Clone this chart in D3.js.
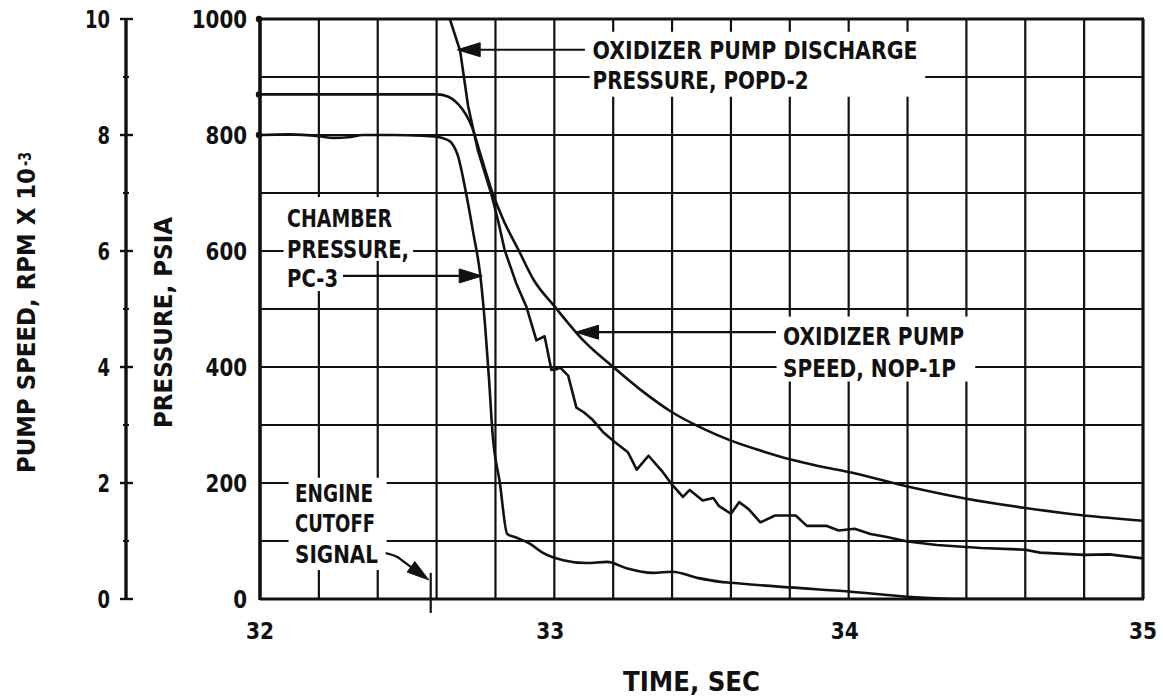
<!DOCTYPE html>
<html><head><meta charset="utf-8">
<script src="https://cdn.jsdelivr.net/npm/d3@7"></script>
<style>
html,body{margin:0;padding:0;background:#fff;}
svg{display:block;}
text{font-family:"DejaVu Sans Condensed","Liberation Sans Narrow","DejaVu Sans",sans-serif;font-weight:bold;fill:#111;}
</style></head><body>
<svg id="chart" width="1163" height="700"></svg>
<script>
// ---------- DATA ----------
const timeTicks = [32, 33, 34, 35];
const timeTickLabels = ["32", "33", "34", "35"];
const pressureTicks = [0, 200, 400, 600, 800, 1000];
const pressureTickLabels = ["0", "200", "400", "600", "800", "1000"];
const speedTicks = [0, 2, 4, 6, 8, 10];
const speedTickLabels = ["0", "2", "4", "6", "8", "10"];

// Chamber pressure PC-3 (psia)
const chamberTime = [32.0, 32.1, 32.2, 32.25, 32.3, 32.35, 32.45, 32.55, 32.6, 32.63, 32.65, 32.673, 32.70, 32.725, 32.748, 32.765, 32.778, 32.79, 32.815, 32.84, 32.87, 32.915, 32.96, 33.03, 33.11, 33.18, 33.245, 33.335, 33.40, 33.49, 33.56, 33.6, 33.8, 34.0, 34.2, 34.4, 35.0];
const chamberPsia = [800, 801, 798, 795, 796, 800, 800, 799, 797, 793, 787, 763, 700, 630, 560, 470, 380, 286, 200, 112, 106, 96, 80, 67, 62, 64, 53, 45, 47, 36, 30, 28, 20, 13, 4, 0, 0];

// Oxidizer pump discharge pressure POPD-2 (psia)
const popdTime = [32.63, 32.645, 32.68, 32.707, 32.74, 32.785, 32.81, 32.831, 32.87, 32.905, 32.925, 32.939, 32.967, 32.99, 33.007, 33.02, 33.047, 33.075, 33.1, 33.128, 33.165, 33.2, 33.25, 33.28, 33.32, 33.365, 33.4, 33.437, 33.46, 33.504, 33.54, 33.56, 33.6, 33.628, 33.66, 33.7, 33.75, 33.82, 33.858, 33.926, 33.966, 34.02, 34.074, 34.13, 34.2, 34.3, 34.45, 34.6, 34.65, 34.8, 34.885, 35.0];
const popdPsia = [1040, 1000, 945, 850, 774, 700, 650, 602, 545, 504, 470, 446, 453, 395, 396, 399, 385, 330, 322, 310, 288, 273, 253, 223, 247, 221, 197, 176, 188, 170, 174, 160, 147, 167, 155, 132, 144, 144, 126, 126, 118, 121, 112, 107, 99, 93, 88, 85, 80, 76, 77, 70];

// Oxidizer pump speed NOP-1P (rpm x 10^-3)
const pumpTime = [32.0, 32.3, 32.6, 32.64, 32.67, 32.7, 32.72, 32.75, 32.79, 32.83, 32.88, 32.93, 33.0, 33.1, 33.2, 33.3, 33.4, 33.5, 33.6, 33.7, 33.8, 33.9, 34.0, 34.2, 34.4, 34.6, 34.8, 35.0];
const pumpKrpm = [8.7, 8.7, 8.7, 8.66, 8.55, 8.35, 8.14, 7.65, 7.0, 6.5, 6.0, 5.5, 5.05, 4.45, 4.0, 3.58, 3.22, 2.95, 2.73, 2.56, 2.41, 2.29, 2.19, 1.94, 1.73, 1.57, 1.44, 1.35];

// Engine cutoff signal time (sec)
const cutoffTime = 32.58;

// ---------- SCALES ----------
const svg = d3.select("#chart");
const X = d3.scaleLinear().domain([32, 35]).range([260, 1143]);
const P = d3.scaleLinear().domain([0, 1000]).range([599, 19]);
const S = d3.scaleLinear().domain([0, 10]).range([599, 19]);

svg.append("rect").attr("width", 1163).attr("height", 700).attr("fill", "#fff");

svg.append("clipPath").attr("id", "plotclip").append("rect")
  .attr("x", X(32)).attr("y", P(1000)).attr("width", X(35) - X(32)).attr("height", P(0) - P(1000));

// ---------- GRID ----------
const grid = svg.append("g").attr("stroke", "#111").attr("stroke-width", 2.2);
const vGrid = d3.range(1, 15).map(i => 32 + i * 0.2);
const hGrid = d3.range(1, 10).map(i => i * 100);
grid.selectAll("line.v").data(vGrid).join("line")
  .attr("x1", d => X(d)).attr("x2", d => X(d)).attr("y1", P(1000)).attr("y2", P(0));
grid.selectAll("line.h").data(hGrid).join("line")
  .attr("x1", X(32)).attr("x2", X(35)).attr("y1", d => P(d)).attr("y2", d => P(d));

// ---------- LABEL MASKS (gridlines interrupted behind text) ----------
const masks = [
  [33.12, 34.26, 978, 866],     // POPD label block
  [32.08, 32.475, 693, 633],    // CHAMBER
  [32.08, 32.52, 633, 583],     // PRESSURE,
  [32.08, 32.275, 583, 531],    // PC-3
  [32.097, 32.43, 209, 50],     // ENGINE CUTOFF SIGNAL
  [33.755, 34.43, 487, 375]     // OXIDIZER PUMP SPEED
];
svg.append("g").selectAll("rect").data(masks).join("rect")
  .attr("x", d => X(d[0])).attr("width", d => X(d[1]) - X(d[0]))
  .attr("y", d => P(d[2])).attr("height", d => P(d[3]) - P(d[2]))
  .attr("fill", "#fff");

// ---------- CURVES ----------
const curves = svg.append("g").attr("clip-path", "url(#plotclip)")
  .attr("fill", "none").attr("stroke", "#111").attr("stroke-width", 2.6)
  .attr("stroke-linejoin", "round").attr("stroke-linecap", "round");

const chamberLine = d3.line().x((d, i) => X(chamberTime[i])).y(d => P(d)).curve(d3.curveMonotoneX);
curves.append("path").attr("d", chamberLine(chamberPsia));
const popdLine = d3.line().x((d, i) => X(popdTime[i])).y(d => P(d)).curve(d3.curveLinear);
curves.append("path").attr("d", popdLine(popdPsia));
const pumpLine = d3.line().x((d, i) => X(pumpTime[i])).y(d => S(d)).curve(d3.curveMonotoneX);
curves.append("path").attr("d", pumpLine(pumpKrpm));

// ink dots at curve starts
svg.append("g").attr("fill", "#111").selectAll("circle")
  .data([P(1000), P(chamberPsia[0]), S(pumpKrpm[0])]).join("circle")
  .attr("cx", X(32) - 1).attr("cy", d => d).attr("r", 3.2);

// ---------- FRAME / AXES ----------
const frame = svg.append("g").attr("stroke", "#111").attr("fill", "none");
frame.append("line").attr("x1", X(32)).attr("x2", X(35) + 1).attr("y1", P(1000)).attr("y2", P(1000)).attr("stroke-width", 3);
frame.append("line").attr("x1", X(35)).attr("x2", X(35)).attr("y1", P(1000)).attr("y2", P(0)).attr("stroke-width", 3.2);
frame.append("line").attr("x1", X(32)).attr("x2", X(32)).attr("y1", P(1000) - 1).attr("y2", P(0) + 1).attr("stroke-width", 3.6);
frame.append("line").attr("x1", X(32)).attr("x2", X(35) + 1).attr("y1", P(0)).attr("y2", P(0)).attr("stroke-width", 3.2);

// pressure tick labels
svg.append("g").selectAll("text").data(pressureTicks).join("text")
  .attr("x", 247).attr("y", d => P(d) + 8.5)
  .attr("text-anchor", "end").attr("font-size", 24)
  .attr("textLength", (d, i) => pressureTickLabels[i].length * 13.8)
  .attr("lengthAdjust", "spacingAndGlyphs")
  .text((d, i) => pressureTickLabels[i]);

// pump-speed axis
const sx = 126;
const sAxis = svg.append("g").attr("stroke", "#111");
sAxis.append("line").attr("x1", sx).attr("x2", sx).attr("y1", S(10)).attr("y2", S(0)).attr("stroke-width", 3.4);
sAxis.selectAll("line.maj").data(speedTicks).join("line")
  .attr("x1", sx - 6).attr("x2", sx + 7).attr("y1", d => S(d)).attr("y2", d => S(d)).attr("stroke-width", 2.4);
sAxis.selectAll("line.min").data(d3.range(1, 10, 2)).join("line")
  .attr("x1", sx - 3).attr("x2", sx + 3).attr("y1", d => S(d)).attr("y2", d => S(d)).attr("stroke-width", 2);
svg.append("g").selectAll("text").data(speedTicks).join("text")
  .attr("x", 110).attr("y", d => S(d) + 8.5)
  .attr("text-anchor", "end").attr("font-size", 24)
  .attr("textLength", (d, i) => speedTickLabels[i].length * 12.5)
  .attr("lengthAdjust", "spacingAndGlyphs")
  .text((d, i) => speedTickLabels[i]);

// time tick labels
svg.append("g").selectAll("text").data(timeTicks).join("text")
  .attr("x", d => X(d) - (d === 32 || d === 35 ? 0 : 4)).attr("y", 639)
  .attr("text-anchor", "middle").attr("font-size", 23)
  .attr("textLength", 28).attr("lengthAdjust", "spacingAndGlyphs")
  .text((d, i) => timeTickLabels[i]);

// axis titles
svg.append("text").attr("x", 623).attr("y", 691).attr("font-size", 27)
  .attr("textLength", 137).attr("lengthAdjust", "spacingAndGlyphs").text("TIME, SEC");
svg.append("text").attr("transform", "translate(172,428) rotate(-90)").attr("font-size", 24)
  .attr("textLength", 211).attr("lengthAdjust", "spacingAndGlyphs").text("PRESSURE, PSIA");
svg.append("text").attr("transform", "translate(35,473) rotate(-90)").attr("font-size", 24)
  .attr("textLength", 305).attr("lengthAdjust", "spacingAndGlyphs").text("PUMP SPEED, RPM X 10");
svg.append("text").attr("transform", "translate(31,166) rotate(-90)").attr("font-size", 18)
  .attr("textLength", 14).attr("lengthAdjust", "spacingAndGlyphs").text("-3");

// ---------- ANNOTATIONS ----------
function arrowHead(g, tip, from, len, hw) {
  const dx = tip[0] - from[0], dy = tip[1] - from[1];
  const L = Math.hypot(dx, dy), ux = dx / L, uy = dy / L;
  const bx = tip[0] - ux * len, by = tip[1] - uy * len;
  g.append("path").attr("d",
    `M${tip[0]},${tip[1]}L${bx - uy * hw},${by + ux * hw}L${bx + uy * hw},${by - ux * hw}Z`)
    .attr("fill", "#111").attr("stroke", "#111").attr("stroke-width", 1);
}
const ann = svg.append("g");
const annLines = ann.append("g").attr("stroke", "#111").attr("stroke-width", 2.2).attr("fill", "none");

function label(lines, t, ps, lengths) {
  lines.forEach((s, i) => {
    ann.append("text").attr("x", X(t)).attr("y", P(ps[i])).attr("font-size", 25)
      .attr("textLength", lengths[i]).attr("lengthAdjust", "spacingAndGlyphs").text(s);
  });
}

// POPD-2 label + arrow
label(["OXIDIZER PUMP DISCHARGE", "PRESSURE, POPD-2"], 33.13, [931, 879], [325, 216]);
{
  const tip = [X(32.67), P(947)], tail = [X(33.104), P(947)];
  annLines.append("line").attr("x1", tail[0]).attr("x2", tip[0] + 10).attr("y1", tail[1]).attr("y2", tip[1]);
  arrowHead(ann, tip, tail, 23, 7);
}

// Chamber pressure label + arrow
label(["CHAMBER", "PRESSURE,", "PC-3"], 32.092, [641, 588, 538], [105, 122, 51]);
{
  const tip = [X(32.755), P(557)], tail = [X(32.282), P(557)];
  annLines.append("line").attr("x1", tail[0]).attr("x2", tip[0] - 10).attr("y1", tail[1]).attr("y2", tip[1]);
  arrowHead(ann, tip, tail, 23, 7);
}

// Engine cutoff signal label + arrow + marker
label(["ENGINE", "CUTOFF", "SIGNAL"], 32.119, [167, 115, 62], [78, 80, 83]);
annLines.append("line").attr("x1", X(cutoffTime)).attr("x2", X(cutoffTime))
  .attr("y1", P(45)).attr("y2", P(-24)).attr("stroke-width", 2.2);
{
  const p0 = [X(32.427), P(79)], p1 = [X(32.466), P(73)];
  const tip = [X(cutoffTime) - 2, P(33)];
  annLines.append("path").attr("d", `M${p0[0]},${p0[1]}Q${p1[0]},${p1[1] - 1} ${p1[0] + 4},${p1[1] + 3}L${tip[0] - 6},${tip[1] - 4}`);
  arrowHead(ann, tip, [p1[0] + 4, p1[1] + 3], 22, 6.5);
}

// Pump speed label + arrow
label(["OXIDIZER PUMP", "SPEED, NOP-1P"], 33.777, [438, 383], [181, 173]);
{
  const tip = [X(33.072), P(460)], tail = [X(33.753), P(460)];
  annLines.append("line").attr("x1", tail[0]).attr("x2", tip[0] + 10).attr("y1", tail[1]).attr("y2", tip[1]);
  arrowHead(ann, tip, tail, 23, 7);
}
</script>
</body></html>
